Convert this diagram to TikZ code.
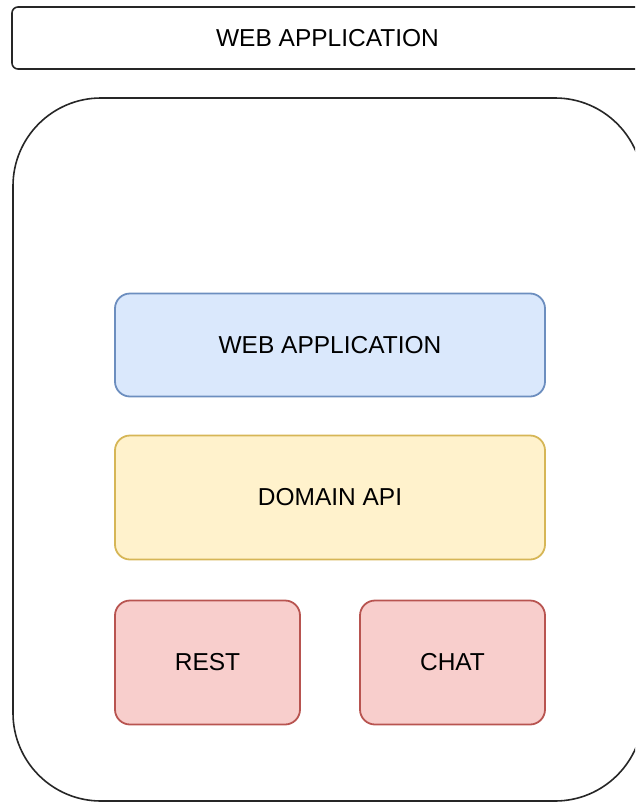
\documentclass[tikz,border=0pt]{standalone}
\usepackage{fontspec}
\setmainfont{Liberation Sans}
\definecolor{bluefill}{HTML}{DAE8FC}
\definecolor{bluedraw}{HTML}{6C8EBF}
\definecolor{yelfill}{HTML}{FFF2CC}
\definecolor{yeldraw}{HTML}{D6B656}
\definecolor{redfill}{HTML}{F8CECC}
\definecolor{reddraw}{HTML}{B85450}
\tikzset{
  lbl/.style={font=\fontsize{24.5}{28}\selectfont, text=black},
  layer/.style={draw, line width=1.8pt, rounded corners=15pt, inner sep=0pt, lbl},
  outerbox/.style={draw=black!85, line width=1.6pt, inner sep=0pt}
}
\begin{document}
\begin{tikzpicture}[x=1pt,y=-1pt]
\useasboundingbox (0,0) rectangle (635,803);
\begin{scope}
\clip (0,0) rectangle (635,803);
\node[outerbox, rounded corners=6pt, minimum width=631pt, minimum height=62pt, lbl] (top) at (327.5,38) {WEB APPLICATION};
\node[outerbox, rounded corners=88pt, minimum width=630pt, minimum height=703pt] (cont) at (328,449.5) {};
\end{scope}
\node[layer, fill=bluefill, draw=bluedraw, minimum width=430pt, minimum height=103pt] (web) at (330,345) {WEB APPLICATION};
\node[layer, fill=yelfill, draw=yeldraw, minimum width=430pt, minimum height=124pt] (dom) at (330,497.5) {DOMAIN API};
\node[layer, fill=redfill, draw=reddraw, minimum width=185pt, minimum height=124pt] (rest) at (207.5,662.5) {REST};
\node[layer, fill=redfill, draw=reddraw, minimum width=185pt, minimum height=124pt] (chat) at (452.5,662.5) {CHAT};
\end{tikzpicture}
\end{document}
